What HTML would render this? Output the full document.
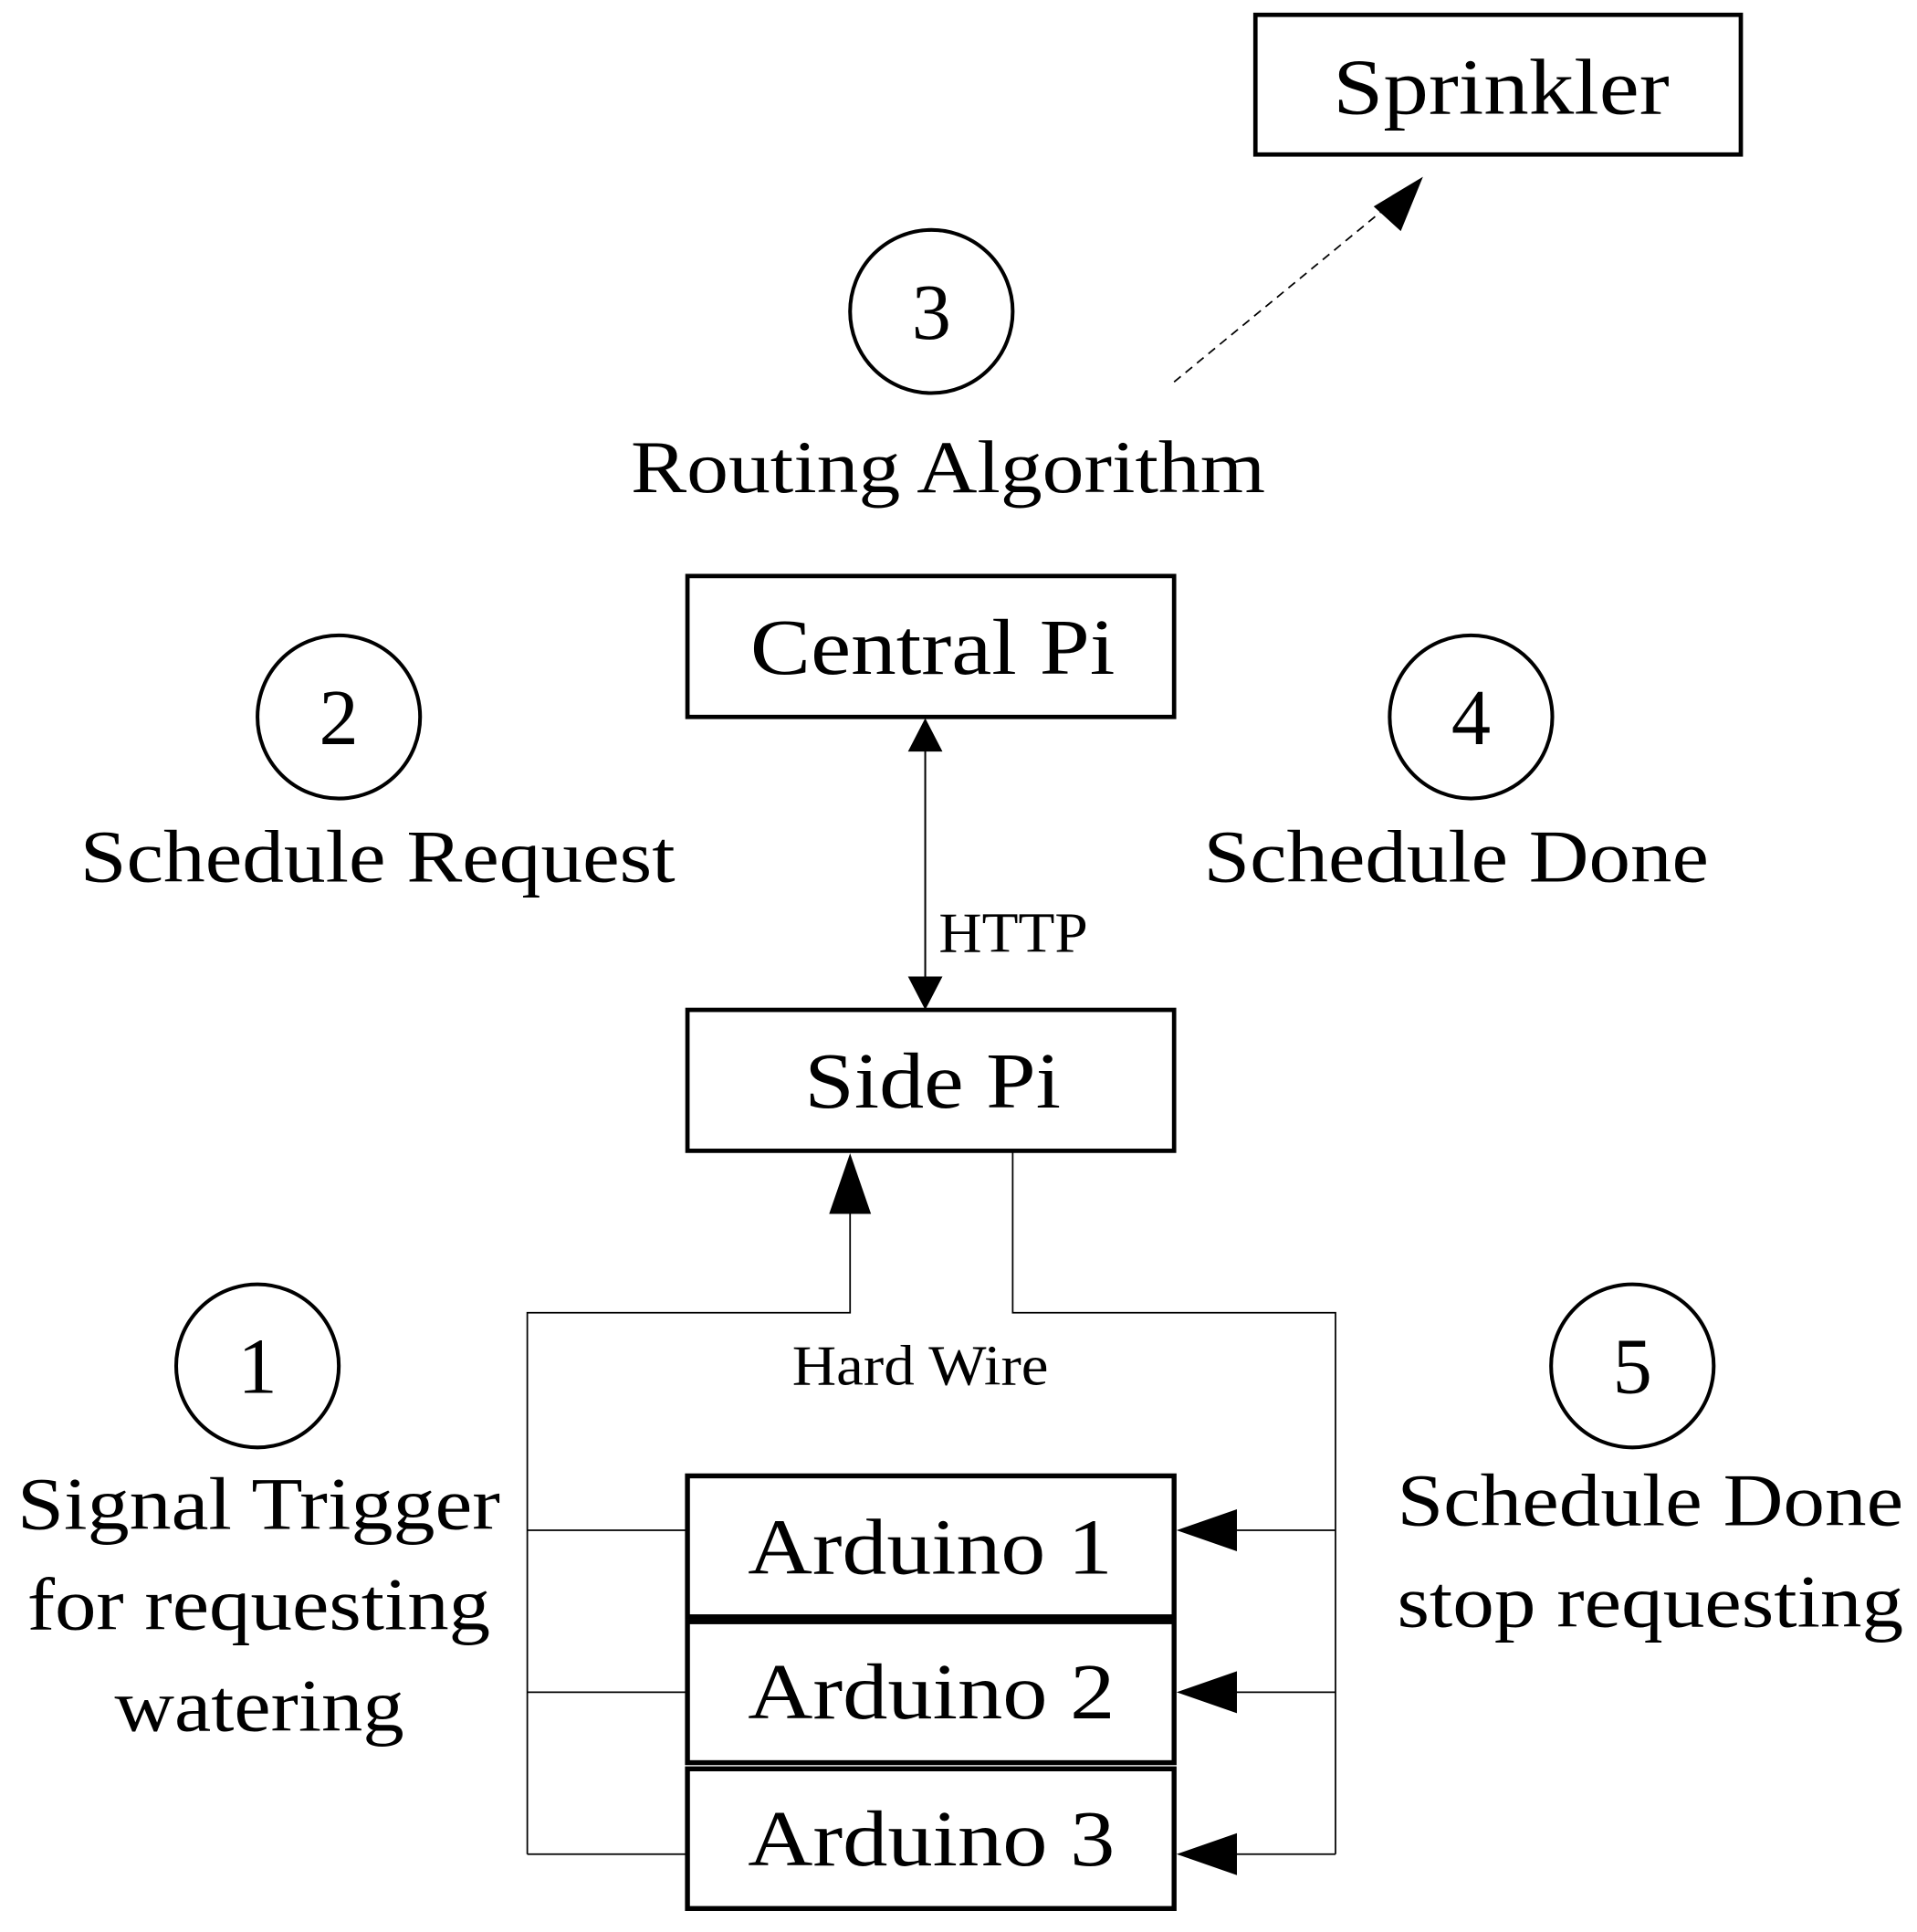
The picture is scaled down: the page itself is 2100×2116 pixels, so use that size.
<!DOCTYPE html>
<html><head><meta charset="utf-8"><style>
html,body{margin:0;padding:0;background:#fff;}
svg{display:block;}
text{font-family:"Liberation Serif",serif;fill:#000;}
</style></head><body>
<svg width="2100" height="2116" viewBox="0 0 1556 1563" preserveAspectRatio="none" xmlns="http://www.w3.org/2000/svg">
<g fill="none" stroke="#000">
<rect x="1019" y="12" width="394" height="113" stroke-width="3.5"/>
<rect x="558" y="466" width="395" height="114" stroke-width="3.5"/>
<rect x="558" y="817" width="395" height="114" stroke-width="3.5"/>
<rect x="558" y="1194" width="395" height="114" stroke-width="4"/>
<rect x="558" y="1312" width="395" height="114" stroke-width="4"/>
<rect x="558" y="1431" width="395" height="113" stroke-width="4"/>
<circle cx="756" cy="252" r="66" stroke-width="3"/>
<circle cx="275" cy="580" r="66" stroke-width="3"/>
<circle cx="1194" cy="580" r="66" stroke-width="3"/>
<circle cx="209" cy="1105" r="66" stroke-width="3"/>
<circle cx="1325" cy="1105" r="66" stroke-width="3"/>
<line x1="953" y1="309" x2="1125" y2="168" stroke-width="1.3" stroke-dasharray="7,5"/>
<line x1="751" y1="600" x2="751" y2="798" stroke-width="1.5"/>
<polyline points="428,1500 428,1062 690,1062 690,975" stroke-width="1.3"/>
<polyline points="822,931 822,1062 1084,1062 1084,1500" stroke-width="1.3"/>
<line x1="428" y1="1238" x2="558" y2="1238" stroke-width="1.3"/>
<line x1="428" y1="1369" x2="558" y2="1369" stroke-width="1.3"/>
<line x1="428" y1="1500" x2="558" y2="1500" stroke-width="1.3"/>
<line x1="1000" y1="1238" x2="1084" y2="1238" stroke-width="1.3"/>
<line x1="1000" y1="1369" x2="1084" y2="1369" stroke-width="1.3"/>
<line x1="1000" y1="1500" x2="1084" y2="1500" stroke-width="1.3"/>
</g>
<g fill="#000">
<polygon points="1155,143 1115,167 1137,187"/>
<polygon points="751,581 737,608 765,608"/>
<polygon points="751,817 737,790 765,790"/>
<polygon points="690,933 673,982 707,982"/>
<polygon points="955,1238 1004,1221 1004,1255"/>
<polygon points="955,1369 1004,1352 1004,1386"/>
<polygon points="955,1500 1004,1483 1004,1517"/>
</g>
<g font-size="64" lengthAdjust="spacingAndGlyphs">
<text x="1082" y="92" textLength="273" lengthAdjust="spacingAndGlyphs">Sprinkler</text>
<text x="609" y="545" textLength="296" lengthAdjust="spacingAndGlyphs">Central Pi</text>
<text x="653" y="896" textLength="208" lengthAdjust="spacingAndGlyphs">Side Pi</text>
<text x="607" y="1273" textLength="296" lengthAdjust="spacingAndGlyphs">Arduino 1</text>
<text x="607" y="1390" textLength="298" lengthAdjust="spacingAndGlyphs">Arduino 2</text>
<text x="607" y="1509" textLength="298" lengthAdjust="spacingAndGlyphs">Arduino 3</text>
</g>
<g font-size="64" text-anchor="middle">
<text x="756" y="274">3</text>
<text x="275" y="602">2</text>
<text x="1194" y="602">4</text>
<text x="209" y="1127">1</text>
<text x="1325" y="1127">5</text>
</g>
<g font-size="60">
<text x="512" y="398" textLength="515" lengthAdjust="spacingAndGlyphs">Routing Algorithm</text>
<text x="65" y="713" textLength="483" lengthAdjust="spacingAndGlyphs">Schedule Request</text>
<text x="977" y="713" textLength="410" lengthAdjust="spacingAndGlyphs">Schedule Done</text>
<text x="14" y="1237" textLength="392" lengthAdjust="spacingAndGlyphs">Signal Trigger</text>
<text x="22" y="1318" textLength="376" lengthAdjust="spacingAndGlyphs">for requesting</text>
<text x="93" y="1400" textLength="235" lengthAdjust="spacingAndGlyphs">watering</text>
<text x="1134" y="1234" textLength="411" lengthAdjust="spacingAndGlyphs">Schedule Done</text>
<text x="1134" y="1316" textLength="411" lengthAdjust="spacingAndGlyphs">stop requesting</text>
</g>
<text x="762" y="770" font-size="46" textLength="121" lengthAdjust="spacingAndGlyphs">HTTP</text>
<text x="643" y="1120" font-size="46" textLength="208" lengthAdjust="spacingAndGlyphs">Hard Wire</text>
</svg>
</body></html>
